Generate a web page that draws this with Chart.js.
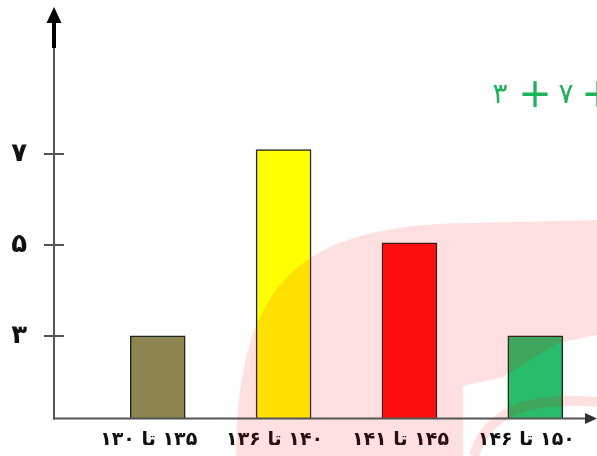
<!DOCTYPE html>
<html>
<head>
<meta charset="utf-8">
<script src="https://cdn.jsdelivr.net/npm/chart.js@4"></script>
<style>
  html, body { margin: 0; padding: 0; background: #ffffff; }
  #wrap { width: 597px; height: 456px; position: relative; }
</style>
</head>
<body>
<div id="wrap"><canvas id="c" width="597" height="456"></canvas></div>
<script>
// ---- data ----
const categories = ['۱۳۰ تا ۱۳۵', '۱۳۶ تا ۱۴۰', '۱۴۱ تا ۱۴۵', '۱۴۶ تا ۱۵۰'];
const counts = [3, 7.1, 5.05, 3];
const barColors = ['#8C8550', '#FFFF00', '#FF1010', '#27BD6A'];
const yTickValues = [3, 5, 7];
const yTickLabels = ['۳', '۵', '۷'];
const sideNote = ['۳', '+', '۷', '+'];

const AXIS = '#555555';

const axesPlugin = {
  id: 'axesArrows',
  afterDatasetsDraw(chart) {
    const ctx = chart.ctx;
    const ca = chart.chartArea;
    const y = chart.scales.y;
    const x0 = ca.left, yb = ca.bottom;
    ctx.save();
    // watermark (pale red shape)
    ctx.fillStyle = 'rgba(255,0,0,0.12)';
    ctx.beginPath();
    ctx.moveTo(236, 456);
    ctx.bezierCurveTo(238, 280, 300, 225, 470, 223);
    ctx.lineTo(597, 220);
    ctx.lineTo(597, 456);
    ctx.closePath();
    ctx.moveTo(463, 456);
    ctx.lineTo(597, 456);
    ctx.lineTo(597, 335);
    ctx.lineTo(558, 343);
    ctx.lineTo(503, 377);
    ctx.lineTo(463, 386);
    ctx.closePath();
    ctx.fill('evenodd');
    ctx.strokeStyle = 'rgba(255,0,0,0.12)';
    ctx.lineWidth = 10;
    ctx.beginPath();
    ctx.moveTo(474, 456);
    ctx.quadraticCurveTo(492, 392, 597, 402);
    ctx.stroke();

    // y axis
    ctx.strokeStyle = AXIS;
    ctx.lineWidth = 2;
    ctx.beginPath();
    ctx.moveTo(x0, yb + 1);
    ctx.lineTo(x0, ca.top + 38);
    ctx.stroke();
    ctx.fillStyle = '#000';
    ctx.fillRect(x0 - 2, ca.top + 15, 4, 26);
    ctx.beginPath();
    ctx.moveTo(x0, ca.top);
    ctx.lineTo(x0 + 7.5, ca.top + 16);
    ctx.lineTo(x0 - 7.5, ca.top + 16);
    ctx.closePath();
    ctx.fill();
    // y ticks crossing the axis
    ctx.strokeStyle = AXIS;
    ctx.lineWidth = 2;
    yTickValues.forEach(v => {
      const py = Math.round(y.getPixelForValue(v));
      ctx.beginPath();
      ctx.moveTo(x0 - 10, py);
      ctx.lineTo(x0 + 10, py);
      ctx.stroke();
    });
    // x axis
    ctx.beginPath();
    ctx.moveTo(x0 - 1, yb);
    ctx.lineTo(ca.right - 10, yb);
    ctx.stroke();
    ctx.fillStyle = '#333';
    ctx.beginPath();
    ctx.moveTo(ca.right, yb);
    ctx.lineTo(ca.right - 12, yb - 5.5);
    ctx.lineTo(ca.right - 12, yb + 5.5);
    ctx.closePath();
    ctx.fill();

    // green side note (cropped equation)
    ctx.fillStyle = '#1DB35A';
    ctx.textBaseline = 'alphabetic';
    ctx.direction = 'ltr';
    ctx.font = '28px "DejaVu Sans"';
    ctx.textAlign = 'center';
    ctx.fillText(sideNote[0], 500, 103);
    ctx.fillText(sideNote[2], 566, 103);
    ctx.font = '40px "DejaVu Sans"';
    ctx.fillText(sideNote[1], 535, 107);
    ctx.fillText(sideNote[3], 598, 107);
    ctx.restore();
  }
};

new Chart(document.getElementById('c'), {
  type: 'bar',
  data: {
    datasets: [{
      data: counts.map((v, i) => ({ x: i + 1, y: v })),
      backgroundColor: barColors,
      borderColor: '#222222',
      borderWidth: 1.5,
      borderSkipped: 'bottom',
      barThickness: 55
    }]
  },
  options: {
    responsive: false,
    animation: false,
    devicePixelRatio: 1,
    layout: { padding: { top: 7, right: 0, left: 0, bottom: 0 } },
    plugins: { legend: { display: false }, tooltip: { enabled: false } },
    scales: {
      x: {
        type: 'linear',
        min: 0.176,
        max: 4.49,
        offset: false,
        grid: { display: false, drawTicks: false },
        border: { display: false },
        afterBuildTicks(s) { s.ticks = categories.map((c, i) => ({ value: i + 1 })); },
        afterFit(s) { s.height = 37.5; s.paddingLeft = 0; s.paddingRight = 0; },
        ticks: {
          autoSkip: false,
          maxRotation: 0,
          padding: 10,
          labelOffset: -9,
          color: '#111',
          font: { family: 'DejaVu Sans', size: 19, weight: 'bold' },
          callback(v) {
            const c = categories[Math.round(v) - 1];
            return c ? c.replace(' تا ', ' تا\u200E ') : '';
          }
        }
      },
      y: {
        min: 1.18,
        max: 10.24,
        grid: { display: false, drawTicks: false },
        border: { display: false },
        afterBuildTicks(s) { s.ticks = yTickValues.map(v => ({ value: v })); },
        afterFit(s) { s.width = 54; s.paddingTop = 0; s.paddingBottom = 0; },
        ticks: {
          padding: 27,
          color: '#111',
          font: { family: 'DejaVu Sans', size: 26, weight: 'bold' },
          callback(v) {
            const i = yTickValues.indexOf(v);
            return i >= 0 ? yTickLabels[i] : '';
          }
        }
      }
    }
  },
  plugins: [axesPlugin]
});
</script>
</body>
</html>
